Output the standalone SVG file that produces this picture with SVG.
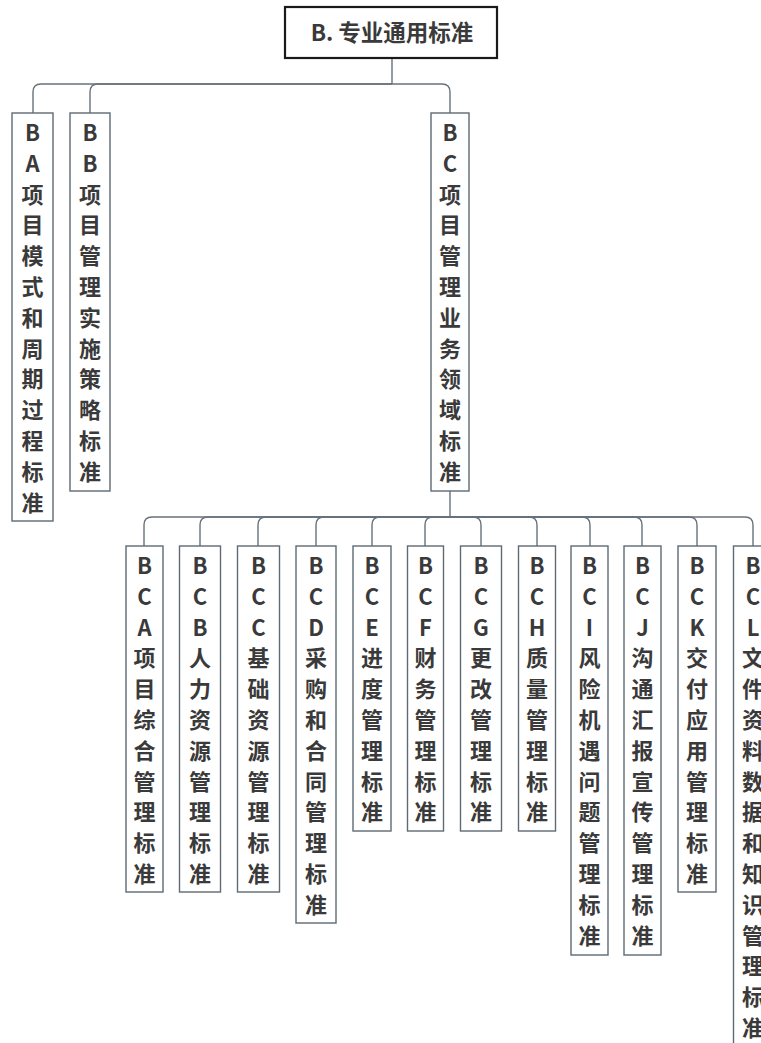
<svg xmlns="http://www.w3.org/2000/svg" width="761" height="1043" viewBox="0 0 761 1043">
<style>
.box{fill:#fff;stroke:#5f6a74;stroke-width:1.4}
.root{fill:#fff;stroke:#1a1a1a;stroke-width:2.2}
.t{font-family:"Noto Sans CJK SC","Microsoft YaHei",sans-serif;font-weight:bold;font-size:22px;fill:#3a3a3a;text-anchor:middle}
.r{font-size:22.5px}
.c{fill:none;stroke:#67727c;stroke-width:1.4}
</style>
<rect width="761" height="1043" fill="#fff"/>
<g id="connectors">
<path class="c" d="M392 59V84"/>
<path class="c" d="M392 84H41Q33 84 33 92V113"/>
<path class="c" d="M392 84H98Q90 84 90 92V113"/>
<path class="c" d="M392 84H442Q450 84 450 92V113"/>
<path class="c" d="M450 491V517"/>
<path class="c" d="M450 517H152Q144 517 144 525V546"/>
<path class="c" d="M450 517H208Q200 517 200 525V546"/>
<path class="c" d="M450 517H266Q258 517 258 525V546"/>
<path class="c" d="M450 517H324Q316 517 316 525V546"/>
<path class="c" d="M450 517H380Q372 517 372 525V546"/>
<path class="c" d="M450 517H433Q425 517 425 525V546"/>
<path class="c" d="M450 517H473Q481 517 481 525V546"/>
<path class="c" d="M450 517H529Q537 517 537 525V546"/>
<path class="c" d="M450 517H582Q590 517 590 525V546"/>
<path class="c" d="M450 517H634Q642 517 642 525V546"/>
<path class="c" d="M450 517H689Q697 517 697 525V546"/>
<path class="c" d="M450 517H745Q753 517 753 525V546"/>
</g>
<g id="root">
<rect class="root" x="285" y="7" width="212" height="51"/>
<text class="t r" x="392" y="41">B. 专业通用标准</text>
</g>
<g id="BA">
<rect class="box" x="12" y="113" width="41" height="408"/>
<text class="t" x="32.5" y="141"><tspan x="32.5">B</tspan><tspan x="32.5" dy="30.8">A</tspan><tspan x="32.5" dy="30.8">项</tspan><tspan x="32.5" dy="30.8">目</tspan><tspan x="32.5" dy="30.8">模</tspan><tspan x="32.5" dy="30.8">式</tspan><tspan x="32.5" dy="30.8">和</tspan><tspan x="32.5" dy="30.8">周</tspan><tspan x="32.5" dy="30.8">期</tspan><tspan x="32.5" dy="30.8">过</tspan><tspan x="32.5" dy="30.8">程</tspan><tspan x="32.5" dy="30.8">标</tspan><tspan x="32.5" dy="30.8">准</tspan></text>
</g>
<g id="BB">
<rect class="box" x="70" y="113" width="40" height="378"/>
<text class="t" x="90" y="141"><tspan x="90">B</tspan><tspan x="90" dy="30.8">B</tspan><tspan x="90" dy="30.8">项</tspan><tspan x="90" dy="30.8">目</tspan><tspan x="90" dy="30.8">管</tspan><tspan x="90" dy="30.8">理</tspan><tspan x="90" dy="30.8">实</tspan><tspan x="90" dy="30.8">施</tspan><tspan x="90" dy="30.8">策</tspan><tspan x="90" dy="30.8">略</tspan><tspan x="90" dy="30.8">标</tspan><tspan x="90" dy="30.8">准</tspan></text>
</g>
<g id="BC">
<rect class="box" x="431" y="113" width="38" height="378"/>
<text class="t" x="450" y="141"><tspan x="450">B</tspan><tspan x="450" dy="30.8">C</tspan><tspan x="450" dy="30.8">项</tspan><tspan x="450" dy="30.8">目</tspan><tspan x="450" dy="30.8">管</tspan><tspan x="450" dy="30.8">理</tspan><tspan x="450" dy="30.8">业</tspan><tspan x="450" dy="30.8">务</tspan><tspan x="450" dy="30.8">领</tspan><tspan x="450" dy="30.8">域</tspan><tspan x="450" dy="30.8">标</tspan><tspan x="450" dy="30.8">准</tspan></text>
</g>
<g id="BCA">
<rect class="box" x="126" y="546" width="37" height="346"/>
<text class="t" x="144.5" y="574"><tspan x="144.5">B</tspan><tspan x="144.5" dy="30.8">C</tspan><tspan x="144.5" dy="30.8">A</tspan><tspan x="144.5" dy="30.8">项</tspan><tspan x="144.5" dy="30.8">目</tspan><tspan x="144.5" dy="30.8">综</tspan><tspan x="144.5" dy="30.8">合</tspan><tspan x="144.5" dy="30.8">管</tspan><tspan x="144.5" dy="30.8">理</tspan><tspan x="144.5" dy="30.8">标</tspan><tspan x="144.5" dy="30.8">准</tspan></text>
</g>
<g id="BCB">
<rect class="box" x="179.5" y="546" width="41" height="346"/>
<text class="t" x="200" y="574"><tspan x="200">B</tspan><tspan x="200" dy="30.8">C</tspan><tspan x="200" dy="30.8">B</tspan><tspan x="200" dy="30.8">人</tspan><tspan x="200" dy="30.8">力</tspan><tspan x="200" dy="30.8">资</tspan><tspan x="200" dy="30.8">源</tspan><tspan x="200" dy="30.8">管</tspan><tspan x="200" dy="30.8">理</tspan><tspan x="200" dy="30.8">标</tspan><tspan x="200" dy="30.8">准</tspan></text>
</g>
<g id="BCC">
<rect class="box" x="237.5" y="546" width="42" height="346"/>
<text class="t" x="258.5" y="574"><tspan x="258.5">B</tspan><tspan x="258.5" dy="30.8">C</tspan><tspan x="258.5" dy="30.8">C</tspan><tspan x="258.5" dy="30.8">基</tspan><tspan x="258.5" dy="30.8">础</tspan><tspan x="258.5" dy="30.8">资</tspan><tspan x="258.5" dy="30.8">源</tspan><tspan x="258.5" dy="30.8">管</tspan><tspan x="258.5" dy="30.8">理</tspan><tspan x="258.5" dy="30.8">标</tspan><tspan x="258.5" dy="30.8">准</tspan></text>
</g>
<g id="BCD">
<rect class="box" x="296" y="546" width="40" height="377"/>
<text class="t" x="316" y="574"><tspan x="316">B</tspan><tspan x="316" dy="30.8">C</tspan><tspan x="316" dy="30.8">D</tspan><tspan x="316" dy="30.8">采</tspan><tspan x="316" dy="30.8">购</tspan><tspan x="316" dy="30.8">和</tspan><tspan x="316" dy="30.8">合</tspan><tspan x="316" dy="30.8">同</tspan><tspan x="316" dy="30.8">管</tspan><tspan x="316" dy="30.8">理</tspan><tspan x="316" dy="30.8">标</tspan><tspan x="316" dy="30.8">准</tspan></text>
</g>
<g id="BCE">
<rect class="box" x="353" y="546" width="38" height="285"/>
<text class="t" x="372" y="574"><tspan x="372">B</tspan><tspan x="372" dy="30.8">C</tspan><tspan x="372" dy="30.8">E</tspan><tspan x="372" dy="30.8">进</tspan><tspan x="372" dy="30.8">度</tspan><tspan x="372" dy="30.8">管</tspan><tspan x="372" dy="30.8">理</tspan><tspan x="372" dy="30.8">标</tspan><tspan x="372" dy="30.8">准</tspan></text>
</g>
<g id="BCF">
<rect class="box" x="407.5" y="546" width="36" height="285"/>
<text class="t" x="425.5" y="574"><tspan x="425.5">B</tspan><tspan x="425.5" dy="30.8">C</tspan><tspan x="425.5" dy="30.8">F</tspan><tspan x="425.5" dy="30.8">财</tspan><tspan x="425.5" dy="30.8">务</tspan><tspan x="425.5" dy="30.8">管</tspan><tspan x="425.5" dy="30.8">理</tspan><tspan x="425.5" dy="30.8">标</tspan><tspan x="425.5" dy="30.8">准</tspan></text>
</g>
<g id="BCG">
<rect class="box" x="460.5" y="546" width="41" height="285"/>
<text class="t" x="481" y="574"><tspan x="481">B</tspan><tspan x="481" dy="30.8">C</tspan><tspan x="481" dy="30.8">G</tspan><tspan x="481" dy="30.8">更</tspan><tspan x="481" dy="30.8">改</tspan><tspan x="481" dy="30.8">管</tspan><tspan x="481" dy="30.8">理</tspan><tspan x="481" dy="30.8">标</tspan><tspan x="481" dy="30.8">准</tspan></text>
</g>
<g id="BCH">
<rect class="box" x="518.5" y="546" width="37" height="285"/>
<text class="t" x="537" y="574"><tspan x="537">B</tspan><tspan x="537" dy="30.8">C</tspan><tspan x="537" dy="30.8">H</tspan><tspan x="537" dy="30.8">质</tspan><tspan x="537" dy="30.8">量</tspan><tspan x="537" dy="30.8">管</tspan><tspan x="537" dy="30.8">理</tspan><tspan x="537" dy="30.8">标</tspan><tspan x="537" dy="30.8">准</tspan></text>
</g>
<g id="BCI">
<rect class="box" x="571" y="546" width="37" height="409"/>
<text class="t" x="589.5" y="574"><tspan x="589.5">B</tspan><tspan x="589.5" dy="30.8">C</tspan><tspan x="589.5" dy="30.8">I</tspan><tspan x="589.5" dy="30.8">风</tspan><tspan x="589.5" dy="30.8">险</tspan><tspan x="589.5" dy="30.8">机</tspan><tspan x="589.5" dy="30.8">遇</tspan><tspan x="589.5" dy="30.8">问</tspan><tspan x="589.5" dy="30.8">题</tspan><tspan x="589.5" dy="30.8">管</tspan><tspan x="589.5" dy="30.8">理</tspan><tspan x="589.5" dy="30.8">标</tspan><tspan x="589.5" dy="30.8">准</tspan></text>
</g>
<g id="BCJ">
<rect class="box" x="624" y="546" width="37" height="409"/>
<text class="t" x="642.5" y="574"><tspan x="642.5">B</tspan><tspan x="642.5" dy="30.8">C</tspan><tspan x="642.5" dy="30.8">J</tspan><tspan x="642.5" dy="30.8">沟</tspan><tspan x="642.5" dy="30.8">通</tspan><tspan x="642.5" dy="30.8">汇</tspan><tspan x="642.5" dy="30.8">报</tspan><tspan x="642.5" dy="30.8">宣</tspan><tspan x="642.5" dy="30.8">传</tspan><tspan x="642.5" dy="30.8">管</tspan><tspan x="642.5" dy="30.8">理</tspan><tspan x="642.5" dy="30.8">标</tspan><tspan x="642.5" dy="30.8">准</tspan></text>
</g>
<g id="BCK">
<rect class="box" x="678" y="546" width="38" height="346"/>
<text class="t" x="697" y="574"><tspan x="697">B</tspan><tspan x="697" dy="30.8">C</tspan><tspan x="697" dy="30.8">K</tspan><tspan x="697" dy="30.8">交</tspan><tspan x="697" dy="30.8">付</tspan><tspan x="697" dy="30.8">应</tspan><tspan x="697" dy="30.8">用</tspan><tspan x="697" dy="30.8">管</tspan><tspan x="697" dy="30.8">理</tspan><tspan x="697" dy="30.8">标</tspan><tspan x="697" dy="30.8">准</tspan></text>
</g>
<g id="BCL">
<rect class="box" x="733.5" y="546" width="40" height="500"/>
<text class="t" x="753" y="574"><tspan x="753">B</tspan><tspan x="753" dy="30.8">C</tspan><tspan x="753" dy="30.8">L</tspan><tspan x="753" dy="30.8">文</tspan><tspan x="753" dy="30.8">件</tspan><tspan x="753" dy="30.8">资</tspan><tspan x="753" dy="30.8">料</tspan><tspan x="753" dy="30.8">数</tspan><tspan x="753" dy="30.8">据</tspan><tspan x="753" dy="30.8">和</tspan><tspan x="753" dy="30.8">知</tspan><tspan x="753" dy="30.8">识</tspan><tspan x="753" dy="30.8">管</tspan><tspan x="753" dy="30.8">理</tspan><tspan x="753" dy="30.8">标</tspan><tspan x="753" dy="30.8">准</tspan></text>
</g>
</svg>
